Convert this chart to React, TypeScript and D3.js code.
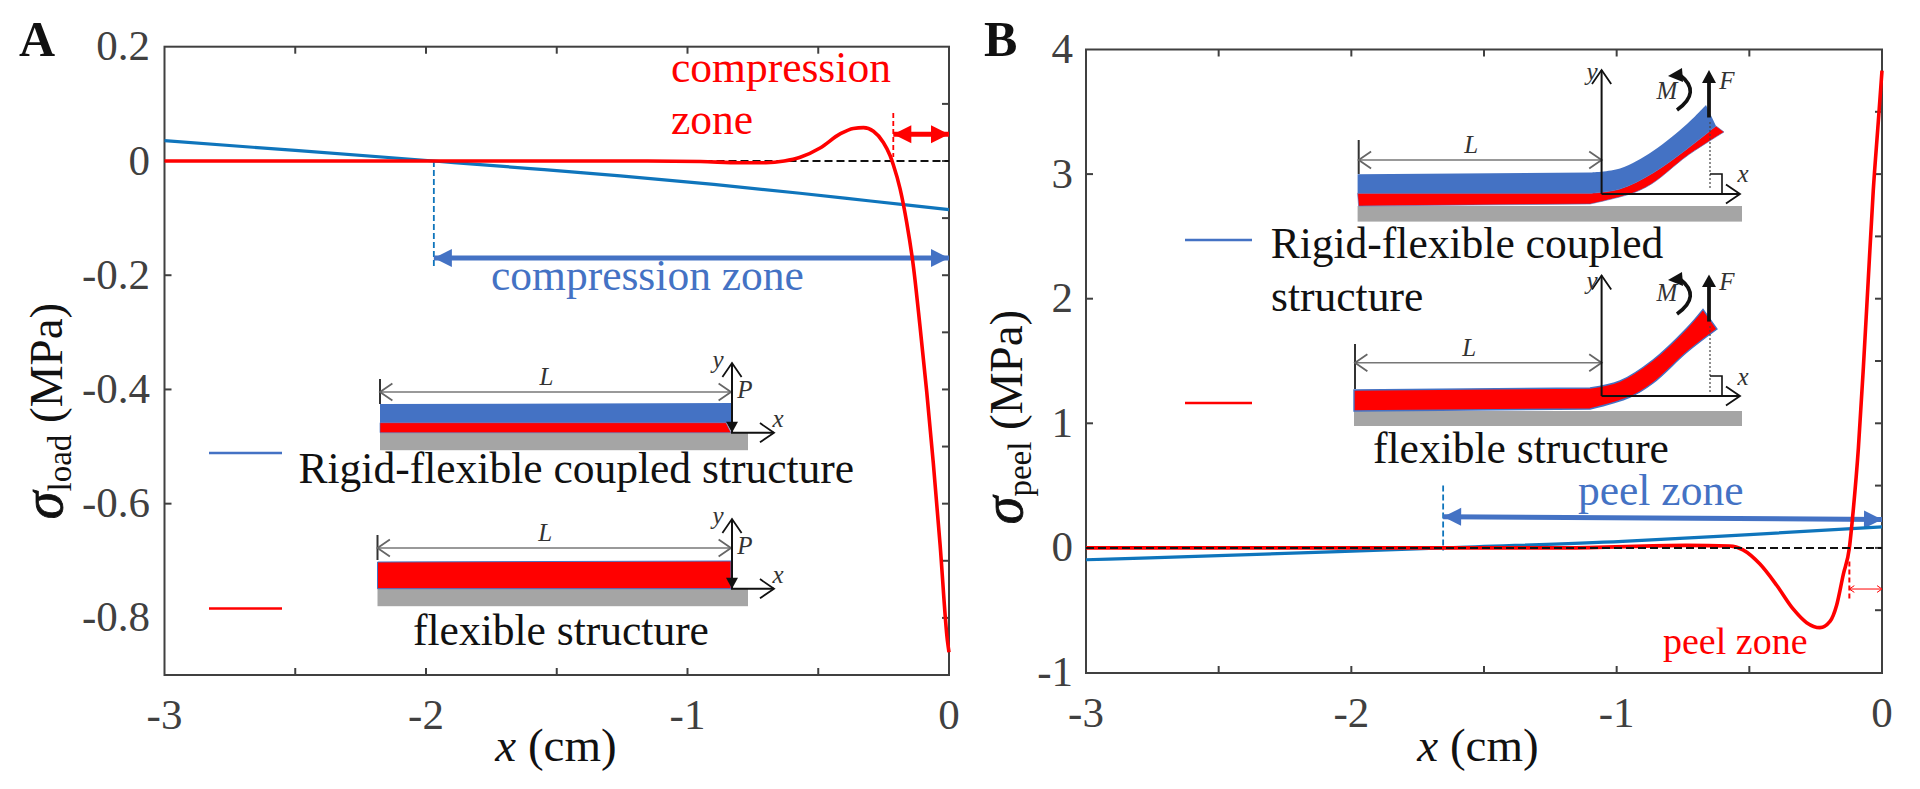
import React from "react";
import * as d3 from "d3";

// ---------- data ----------
const aBlueX = [-3, -2.5, -1.97, -1.6, -1.257, -0.9, -0.57, -0.3, 0];
const aBlueY = [0.0356, 0.0185, 0, -0.0132, -0.026, -0.041, -0.0565, -0.07, -0.085];
const aRedX = [-3, -2, -1.2, -0.95, -0.8, -0.7, -0.63, -0.569, -0.493, -0.4165, -0.366, -0.327, -0.289, -0.251, -0.2254, -0.213, -0.187, -0.162, -0.136, -0.111, -0.085, -0.06, -0.034, -0.006, 0];
const aRedY = [0, 0, 0, -0.001, -0.003, -0.003, 0, 0.0065, 0.0228, 0.0474, 0.057, 0.0584, 0.052, 0.0325, 0.0096, -0.0065, -0.0488, -0.107, -0.185, -0.289, -0.405, -0.529, -0.672, -0.84, -0.86];
const bBlueX = [-3, -2.76, -2.05, -1.66, -0.977, -0.5, 0];
const bBlueY = [-0.095, -0.08, -0.03, 0, 0.052, 0.107, 0.168];
const bRedX = [-3, -2, -1.2, -0.737, -0.574, -0.524, -0.46, -0.397, -0.335, -0.284, -0.234, -0.196, -0.171, -0.146, -0.123, -0.108, -0.089, -0.07, -0.052, -0.033, -0.014, 0];
const bRedY = [0, 0, 0, 0.02, 0.015, -0.016, -0.13, -0.3, -0.49, -0.6, -0.64, -0.59, -0.46, -0.214, 0, 0.31, 0.8, 1.457, 2.144, 2.865, 3.42, 3.83];
const aYLabels = ["0.2", "0", "-0.2", "-0.4", "-0.6", "-0.8"];
const aYMajor = [0.2, 0, -0.2, -0.4, -0.6, -0.8];
const aYMinor = [0.1, 0, -0.1, -0.2, -0.3, -0.4, -0.5, -0.6, -0.7, -0.8];
const bYLabels = ["4", "3", "2", "1", "0", "-1"];
const bYMajor = [4, 3, 2, 1, 0, -1];
const bYMinor = [3.5, 3, 2.5, 2, 1.5, 1, 0.5, 0, -0.5];
const xLabels = ["-3", "-2", "-1", "0"];
const xMajor = [-3, -2, -1, 0];
const xMinor = [-2.5, -2, -1.5, -1, -0.5];

// schematic beam outlines of the two bent insets: flat start, then the curved part
type P = [number, number];
const coupledTop: P[] = [[1357.6, 174.3], [1590, 172.5], [1620, 168.5], [1653, 151], [1687, 124], [1706, 105]];
const coupledMid: P[] = [[1357.6, 193.3], [1590, 193.3], [1620, 189], [1653, 173], [1687, 149], [1716, 126]];
const coupledBot: P[] = [[1358.6, 206], [1590, 204], [1633, 193], [1653, 183], [1687, 156], [1724, 132]];
const flexTop: P[] = [[1354, 390], [1590, 388], [1620, 381], [1653, 360], [1687, 328], [1703, 309.4]];
const flexBot: P[] = [[1354, 411], [1590, 409], [1630, 397], [1653, 383], [1687, 352], [1717, 329]];

const SERIF = "'Liberation Serif', serif";
const AX = "#404040";
const BLUE = "#0f75bc";
const ARROW = "#4472c4";
const RED = "#ff0000";
const GRAY = "#a5a5a5";

const ax = d3.scaleLinear().domain([-3, 0]).range([164.5, 949]);
const ay = d3.scaleLinear().domain([0, -0.9]).range([161, 675]);
const bx = d3.scaleLinear().domain([-3, 0]).range([1086, 1882]);
const by = d3.scaleLinear().domain([4, -1]).range([49.5, 672.5]);

function linePath(xs: number[], ys: number[], sx: any, sy: any) {
  const pts = xs.map((x, i) => [x, ys[i]] as [number, number]);
  return d3.line<[number, number]>().x((d) => sx(d[0])).y((d) => sy(d[1])).curve(d3.curveMonotoneX)(pts) || "";
}

const smooth = d3.line<P>().curve(d3.curveCatmullRom.alpha(0.5));
function band(upper: P[], lower: P[]) {
  const up = (smooth(upper.slice(1)) || "").slice(1);
  const lowRev = [...lower.slice(1)].reverse();
  const low = (smooth(lowRev) || "").slice(1);
  return `M${upper[0]}L${up}L${low}L${lower[0]}Z`;
}

function Axes({ sx, sy, major, minor, labels, top, bottom, left, right, labelX }: any) {
  return (
    <g>
      <rect x={left} y={top} width={right - left} height={bottom - top} fill="none" stroke={AX} strokeWidth={2} />
      {xMinor.map((v: number) => (
        <g key={v}>
          <line x1={sx(v)} x2={sx(v)} y1={top} y2={top + 7} stroke={AX} strokeWidth={2} />
          <line x1={sx(v)} x2={sx(v)} y1={bottom} y2={bottom - 7} stroke={AX} strokeWidth={2} />
        </g>
      ))}
      {major.slice(1, -1).map((v: number) => (
        <line key={v} x1={left} x2={left + 7} y1={sy(v)} y2={sy(v)} stroke={AX} strokeWidth={2} />
      ))}
      {minor.map((v: number) => (
        <line key={v} x1={right} x2={right - 7} y1={sy(v)} y2={sy(v)} stroke={AX} strokeWidth={2} />
      ))}
      {labels.map((t: string, i: number) => (
        <text key={t} x={labelX} y={sy(major[i]) + 13.5} textAnchor="end" fontFamily={SERIF} fontSize={43} fill={AX}>{t}</text>
      ))}
      {xLabels.map((t, i) => (
        <text key={t} x={sx(xMajor[i])} y={bottom + 54} textAnchor="middle" fontFamily={SERIF} fontSize={43} fill={AX}>{t}</text>
      ))}
    </g>
  );
}

function XTitle({ cx }: { cx: number }) {
  return (
    <text x={cx} y={761} textAnchor="middle" fontFamily={SERIF} fontSize={47} fill="#111">
      <tspan fontStyle="italic">x</tspan> (cm)
    </text>
  );
}

function YTitle({ x, y, sub }: { x: number; y: number; sub: string }) {
  return (
    <text transform={`translate(${x},${y}) rotate(-90)`} textAnchor="middle" fontFamily={SERIF} fontSize={47} fill="#111">
      <tspan fontStyle="italic" fontSize={56} stroke="#111" strokeWidth={0.8}>σ</tspan>
      <tspan fontSize={33} dy={9}>{sub}</tspan>
      <tspan dy={-9}> (MPa)</tspan>
    </text>
  );
}

// double or single thick arrow, head is a filled triangle
function Arrow({ x1, y1, x2, y2, color, w = 5, len = 18, head = 18, both = false }: any) {
  const a = Math.atan2(y2 - y1, x2 - x1);
  const tri = (tx: number, ty: number, an: number) => {
    const bx0 = tx - len * Math.cos(an);
    const by0 = ty - len * Math.sin(an);
    const nx = (-Math.sin(an) * head) / 2;
    const ny = (Math.cos(an) * head) / 2;
    return `${tx},${ty} ${bx0 + nx},${by0 + ny} ${bx0 - nx},${by0 - ny}`;
  };
  return (
    <g>
      <line x1={x1} y1={y1} x2={x2} y2={y2} stroke={color} strokeWidth={w} />
      <polygon points={tri(x2, y2, a)} fill={color} />
      {both && <polygon points={tri(x1, y1, a + Math.PI)} fill={color} />}
    </g>
  );
}

function OpenHead({ x, y, dir, color = "#111", s = 12, w = 1.8 }: any) {
  const a = dir;
  const p1 = [x - s * Math.cos(a - 0.6), y - s * Math.sin(a - 0.6)];
  const p2 = [x - s * Math.cos(a + 0.6), y - s * Math.sin(a + 0.6)];
  return <polyline points={`${p1} ${x},${y} ${p2}`} fill="none" stroke={color} strokeWidth={w} />;
}

function Lab({ x, y, t, size = 25 }: any) {
  return <text x={x} y={y} textAnchor="middle" fontFamily={SERIF} fontStyle="italic" fontSize={size} fill="#333">{t}</text>;
}

function LDim({ x0, x1, y, barTop, barBot }: any) {
  return (
    <g>
      <line x1={x0} x2={x0} y1={barTop} y2={barBot} stroke="#333" strokeWidth={2} />
      <line x1={x0} x2={x1} y1={y} y2={y} stroke="#777" strokeWidth={1.6} />
      <OpenHead x={x0} y={y} dir={Math.PI} color="#666" s={15} />
      <OpenHead x={x1} y={y} dir={0} color="#666" s={15} />
      <Lab x={(x0 + x1) / 2 - 9} y={y - 7} t="L" />
    </g>
  );
}

function StraightInset({ dx, dy, blue }: { dx: number; dy: number; blue: boolean }) {
  const x0 = 380 + dx;
  const x1 = 731;
  const yTop = 404 + dy;
  const yMid = 422.7 + dy;
  const yBot = 432.7 + dy;
  return (
    <g>
      <rect x={x0} y={yBot} width={748 - x0} height={17.5} fill={GRAY} />
      {blue ? (
        <g>
          <polygon points={`${x0},${yTop} ${x1},${yTop - 1} ${x1},${yMid} ${x0},${yMid}`} fill={ARROW} />
          <polygon points={`${x0},${yMid} ${x1 - 5},${yMid} ${x1},${yBot} ${x0},${yBot}`} fill={RED} stroke={ARROW} strokeWidth={0.6} />
        </g>
      ) : (
        <polygon points={`${x0},${yTop + 2} ${x1},${yTop + 1} ${x1},${yBot} ${x0},${yBot}`} fill={RED} stroke={ARROW} strokeWidth={1} />
      )}
      <LDim x0={x0} x1={x1} y={392 + dy} barTop={379 + dy} barBot={yTop} />
      <line x1={x1 + 1} x2={x1 + 1} y1={yBot} y2={363 + dy} stroke="#111" strokeWidth={2} />
      <OpenHead x={x1 + 1} y={363 + dy} dir={-Math.PI / 2} s={17} />
      <polygon points={`${x1 + 1},${yBot} ${x1 - 5},${yBot - 11} ${x1 + 7},${yBot - 11}`} fill="#111" />
      <line x1={x1} x2={774} y1={yBot} y2={yBot} stroke="#111" strokeWidth={2} />
      <OpenHead x={774} y={yBot} dir={0} s={17} />
      <Lab x={718} y={368 + dy} t="y" />
      <Lab x={745} y={398 + dy} t="P" />
      <Lab x={778} y={427 + dy} t="x" />
    </g>
  );
}

function Moment({ x, y }: { x: number; y: number }) {
  return (
    <g>
      <path d={`M${x - 3},${y + 32} Q${x + 22},${y + 14} ${x},${y - 3}`} fill="none" stroke="#111" strokeWidth={3.6} />
      <polygon points={`${x - 12},${y - 2} ${x + 2},${y - 10} ${x + 3},${y + 4}`} fill="#111" />
    </g>
  );
}

function BentInset({ two }: { two: boolean }) {
  const xAxis = two ? 194 : 396;
  const yAxisTop = two ? 70 : 275.5;
  return (
    <g>
      <rect x={two ? 1357.6 : 1354} y={xAxis + (two ? 12 : 15)} width={two ? 384.4 : 388} height={two ? 15.6 : 15} fill={GRAY} />
      {two ? (
        <g>
          <path d={band(coupledMid, coupledBot)} fill={RED} stroke={ARROW} strokeWidth={0.6} />
          <path d={band(coupledTop, coupledMid)} fill={ARROW} />
        </g>
      ) : (
        <path d={band(flexTop, flexBot)} fill={RED} stroke={ARROW} strokeWidth={1.4} />
      )}
      <LDim x0={two ? 1358.7 : 1355} x1={1601.6} y={two ? 160 : 362.7} barTop={two ? 140 : 344} barBot={two ? 174 : 389} />
      <line x1={1601.6} x2={1601.6} y1={xAxis} y2={yAxisTop} stroke="#111" strokeWidth={2} />
      <OpenHead x={1601.6} y={yAxisTop} dir={-Math.PI / 2} s={17} />
      <line x1={1601.6} x2={1740} y1={xAxis} y2={xAxis} stroke="#111" strokeWidth={2} />
      <OpenHead x={1740} y={xAxis} dir={0} s={17} />
      <line x1={1710} x2={1710} y1={two ? 122 : 326} y2={xAxis - 4} stroke="#444" strokeWidth={1.2} strokeDasharray="2 2" />
      <polyline points={`1710,${xAxis - 20} 1722,${xAxis - 20} 1722,${xAxis}`} fill="none" stroke="#111" strokeWidth={1.6} />
      <line x1={1709} x2={1709} y1={two ? 117.5 : 321.6} y2={two ? 78 : 282} stroke="#111" strokeWidth={3.8} />
      <polygon points={`1709,${two ? 70 : 274.5} 1702,${two ? 83 : 287} 1716,${two ? 83 : 287}`} fill="#111" />
      <Moment x={1680} y={two ? 78 : 282} />
      <Lab x={1592} y={two ? 80 : 289} t="y" />
      <Lab x={1743} y={two ? 182 : 385} t="x" />
      <Lab x={1727} y={two ? 89 : 290} t="F" />
      <Lab x={1667} y={two ? 99 : 301} t="M" />
    </g>
  );
}

function Txt({ x, y, fill = "#111", size = 43.5, children }: any) {
  return <text x={x} y={y} fontFamily={SERIF} fontSize={size} fill={fill}>{children}</text>;
}

export default function App() {
  return (
    <svg width={1920} height={789} style={{ position: "absolute", left: 0, top: 0, display: "block", background: "#fff" }}>
      {/* panel A */}
      <text x={19} y={56} fontFamily={SERIF} fontWeight="bold" fontSize={50} fill="#111">A</text>
      <Axes sx={ax} sy={ay} major={aYMajor} minor={aYMinor} labels={aYLabels} top={46.7} bottom={675} left={164.5} right={949} labelX={150} />
      <XTitle cx={556} />
      <YTitle x={62} y={411} sub="load" />

      <line x1={ax(-3)} x2={ax(0)} y1={ay(0)} y2={ay(0)} stroke="#111" strokeWidth={2} strokeDasharray="8 4" />
      <StraightInset dx={0} dy={0} blue />
      <StraightInset dx={-2.5} dy={156} blue={false} />
      <line x1={209} x2={282} y1={453} y2={453} stroke={ARROW} strokeWidth={2.4} />
      <line x1={209} x2={282} y1={608.5} y2={608.5} stroke={RED} strokeWidth={2.4} />
      <Txt x={298.5} y={483}>Rigid-flexible coupled structure</Txt>
      <Txt x={413} y={645}>flexible structure</Txt>

      <line x1={ax(-1.97)} x2={ax(-1.97)} y1={ay(0)} y2={ay(-0.185)} stroke={BLUE} strokeWidth={1.8} strokeDasharray="6 3" />
      <Arrow x1={ax(-1.97)} y1={ay(-0.17)} x2={ax(0)} y2={ay(-0.17)} color={ARROW} both />
      <Txt x={491} y={290} fill={ARROW}>compression zone</Txt>
      <Txt x={671} y={82} fill={RED}>compression</Txt>
      <Txt x={671} y={134} fill={RED}>zone</Txt>
      <line x1={ax(-0.213)} x2={ax(-0.213)} y1={ay(0.084)} y2={ay(0.007)} stroke={RED} strokeWidth={1.8} strokeDasharray="5 3" />
      <Arrow x1={ax(-0.213)} y1={ay(0.047)} x2={ax(0)} y2={ay(0.047)} color={RED} both />

      <path d={linePath(aBlueX, aBlueY, ax, ay)} fill="none" stroke={BLUE} strokeWidth={3.2} />
      <path d={linePath(aRedX, aRedY, ax, ay)} fill="none" stroke={RED} strokeWidth={3.6} />

      {/* panel B */}
      <text x={984} y={56} fontFamily={SERIF} fontWeight="bold" fontSize={50} fill="#111">B</text>
      <Axes sx={bx} sy={by} major={bYMajor} minor={bYMinor} labels={bYLabels} top={49.5} bottom={673} left={1086} right={1882} labelX={1073} />
      <XTitle cx={1478} />
      <YTitle x={1022} y={417} sub="peel" />

      <BentInset two />
      <BentInset two={false} />
      <line x1={1185} x2={1252} y1={240} y2={240} stroke={ARROW} strokeWidth={2.4} />
      <line x1={1185} x2={1252} y1={403} y2={403} stroke={RED} strokeWidth={2.4} />
      <Txt x={1270.7} y={258}>Rigid-flexible coupled</Txt>
      <Txt x={1271} y={311}>structure</Txt>
      <Txt x={1373} y={463}>flexible structure</Txt>

      <line x1={bx(-1.654)} x2={bx(-1.654)} y1={by(0.5)} y2={by(-0.02)} stroke={BLUE} strokeWidth={1.8} strokeDasharray="6 3" />
      <Arrow x1={bx(-1.654)} y1={by(0.25)} x2={bx(0)} y2={by(0.228)} color={ARROW} both />
      <Txt x={1578} y={505} fill={ARROW}>peel zone</Txt>

      <path d={linePath(bBlueX, bBlueY, bx, by)} fill="none" stroke={BLUE} strokeWidth={3.2} />
      <path d={linePath(bRedX, bRedY, bx, by)} fill="none" stroke={RED} strokeWidth={3.6} />
      <line x1={bx(-3)} x2={bx(0)} y1={by(0)} y2={by(0)} stroke="#111" strokeWidth={2} strokeDasharray="8 4" />

      <line x1={bx(-0.123)} x2={bx(-0.123)} y1={by(-0.11)} y2={by(-0.43)} stroke={RED} strokeWidth={2} strokeDasharray="5 3" />
      <line x1={bx(-0.123)} x2={bx(0)} y1={by(-0.33)} y2={by(-0.33)} stroke={RED} strokeWidth={1} />
      <OpenHead x={bx(-0.123)} y={by(-0.33)} dir={Math.PI} color={RED} s={6} w={1} />
      <OpenHead x={bx(0)} y={by(-0.33)} dir={0} color={RED} s={6} w={1} />
      <Txt x={1663} y={654} fill={RED} size={38}>peel zone</Txt>
    </svg>
  );
}
